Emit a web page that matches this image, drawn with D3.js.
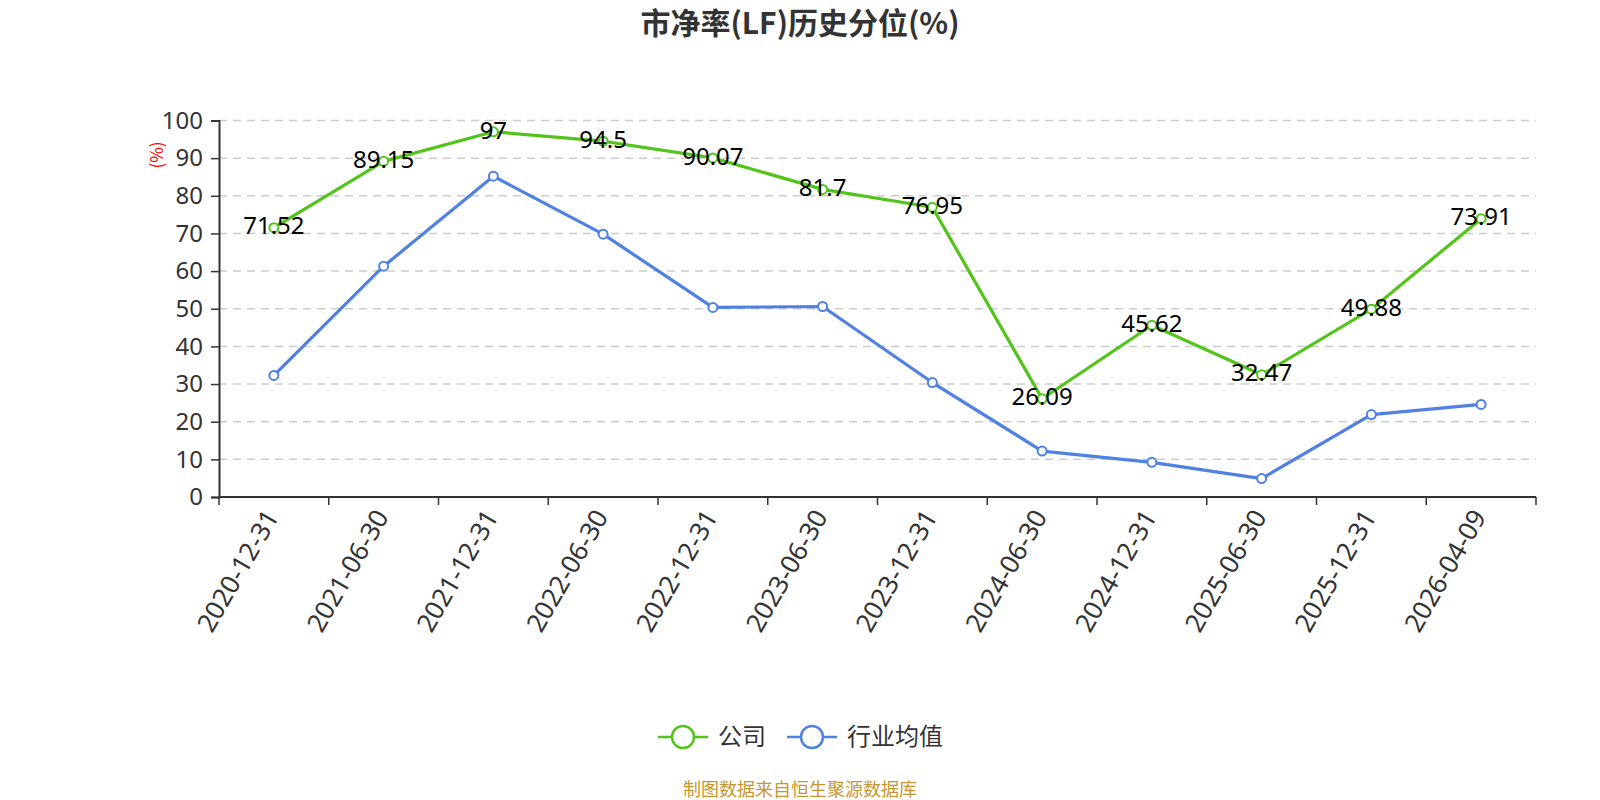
<!DOCTYPE html>
<html><head><meta charset="utf-8">
<script src="https://cdn.jsdelivr.net/npm/d3@7/dist/d3.min.js"></script>
<style>body{margin:0;background:#fff;}svg{display:block;font-family:"Noto Sans CJK SC","Noto Sans",sans-serif;}</style>
</head><body>
<svg id="c" width="1600" height="800"></svg>
<script>
const categories = ["2020-12-31","2021-06-30","2021-12-31","2022-06-30","2022-12-31","2023-06-30","2023-12-31","2024-06-30","2024-12-31","2025-06-30","2025-12-31","2026-04-09"];
const companyValues = [71.52,89.15,97,94.5,90.07,81.7,76.95,26.09,45.62,32.47,49.88,73.91];
const industryValues = [32.3,61.3,85.2,69.8,50.35,50.6,30.4,12.2,9.2,4.9,21.9,24.6];
const yTicks = [0,10,20,30,40,50,60,70,80,90,100];
const seriesNames = ["公司","行业均值"];
const titleText = "市净率(LF)历史分位(%)";
const footerText = "制图数据来自恒生聚源数据库";

const colors = ["#52c41a","#4f81e3"];
const numFont = "'Noto Sans','Open Sans',sans-serif";
const svg = d3.select("#c");
const L=219,R=1536,T=120.5,B=497;
const x = d3.scaleBand().domain(categories).range([L,R]);
const y = d3.scaleLinear().domain([0,100]).range([B,T]);

// title
svg.append("text").attr("x",800).attr("y",34).attr("text-anchor","middle")
  .attr("font-size",30).attr("font-weight","bold").attr("fill","#333").text(titleText);

// grid
svg.append("g").selectAll("line").data(yTicks.filter(d=>d>0)).join("line")
  .attr("x1",L).attr("x2",R).attr("y1",d=>y(d)).attr("y2",d=>y(d))
  .attr("stroke","#ccc").attr("stroke-width",1.5).attr("stroke-dasharray","8,6");

// y axis
const ya = svg.append("g").attr("transform",`translate(${L},0)`)
  .call(d3.axisLeft(y).tickValues(yTicks).tickSize(8).tickPadding(8));
ya.attr("font-size",null).attr("font-family",null);
ya.select(".domain").attr("stroke","#333").attr("stroke-width",2);
ya.selectAll(".tick line").attr("stroke","#333").attr("stroke-width",1.5);
ya.selectAll(".tick text").style("font-size","24px").attr("fill","#333").style("font-family",numFont);

svg.append("text").attr("transform","translate(157,155) rotate(-90)").attr("text-anchor","middle")
  .attr("dy","0.35em").style("font-size","17px").attr("fill","red").text("(%)");

// x axis
const xa = svg.append("g").attr("transform",`translate(0,${B})`);
xa.append("line").attr("x1",L).attr("x2",R).attr("stroke","#333").attr("stroke-width",2);
const bounds = categories.map(c=>x(c)).concat([R]);
xa.selectAll("line.tk").data(bounds).join("line").attr("class","tk")
  .attr("x1",d=>d).attr("x2",d=>d).attr("y1",0).attr("y2",8).attr("stroke","#333").attr("stroke-width",1.5);
xa.selectAll("text").data(categories).join("text")
  .attr("transform",d=>`translate(${x(d)+x.bandwidth()/2-2},15) rotate(-60)`)
  .attr("text-anchor","end").attr("dy","0.35em").style("font-size","26px").attr("fill","#333")
  .style("font-family",numFont).text(d=>d);

const cx = d=>x(d)+x.bandwidth()/2;
const line = d3.line().x((d,i)=>cx(categories[i])).y(d=>y(d));

[industryValues, companyValues].forEach((vals,k)=>{
  const col = k===0?colors[1]:colors[0];
  svg.append("path").datum(vals).attr("d",line).attr("fill","none").attr("stroke",col).attr("stroke-width",3.2).attr("stroke-linejoin","round");
  svg.append("g").selectAll("circle").data(vals).join("circle")
    .attr("cx",(d,i)=>cx(categories[i])).attr("cy",d=>y(d)).attr("r",4.5)
    .attr("fill","#fff").attr("stroke",col).attr("stroke-width",2);
});

// labels for company
svg.append("g").selectAll("text").data(companyValues).join("text")
  .attr("x",(d,i)=>cx(categories[i])).attr("y",d=>y(d)).attr("dy","0.28em")
  .attr("text-anchor","middle").style("font-size","24px").attr("fill","#000")
  .style("font-family",numFont).text(d=>d);

// legend
const lg = svg.append("g");
const items = [{n:seriesNames[0],c:colors[0],x:658},{n:seriesNames[1],c:colors[1],x:787}];
items.forEach(it=>{
  lg.append("line").attr("x1",it.x).attr("x2",it.x+50).attr("y1",737).attr("y2",737).attr("stroke",it.c).attr("stroke-width",2.5);
  lg.append("circle").attr("cx",it.x+25).attr("cy",737).attr("r",11).attr("fill","#fff").attr("stroke",it.c).attr("stroke-width",2.5);
  lg.append("text").attr("x",it.x+60).attr("y",737).attr("dy","0.35em").style("font-size","24px").attr("fill","#333").text(it.n);
});

svg.append("text").attr("x",800).attr("y",796).attr("text-anchor","middle").style("font-size","18px").attr("fill","#c8962e").text(footerText);
</script>
</body></html>
